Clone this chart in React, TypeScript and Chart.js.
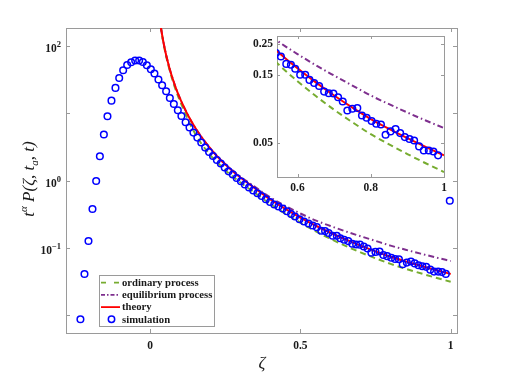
import React, { useEffect, useRef } from "react";
import { Chart, registerables } from "chart.js";

Chart.register(...registerables);

// ---------- data ----------
const simZeta = [
  -0.232, -0.2185, -0.2052, -0.1919, -0.1796, -0.1673, -0.154, -0.142, -0.1287, -0.1154,
  -0.103, -0.0898, -0.0765, -0.0632, -0.0499, -0.0366, -0.0243, -0.011, 0.0023, 0.0143,
  0.0276, 0.0399, 0.0532, 0.0655, 0.0788, 0.0921, 0.104, 0.118, 0.131, 0.144,
  0.157, 0.17, 0.183, 0.196, 0.209, 0.222, 0.235, 0.248, 0.261, 0.275,
  0.288, 0.302, 0.315, 0.329, 0.343, 0.357, 0.371, 0.385, 0.399, 0.413,
  0.427, 0.441, 0.455, 0.469, 0.482, 0.497, 0.512, 0.527, 0.541, 0.5547,
  0.5693, 0.582, 0.5937, 0.6073, 0.621, 0.6327, 0.6454, 0.659, 0.6727, 0.6854,
  0.698, 0.7108, 0.7235, 0.7361, 0.7497, 0.7633, 0.776, 0.7888, 0.8024, 0.815,
  0.8278, 0.8405, 0.854, 0.8677, 0.8803, 0.893, 0.9058, 0.9185, 0.932, 0.9448,
  0.9584, 0.9711, 0.9838, 0.997,
];
const simValue = [
  0.00869, 0.0409, 0.1267, 0.378, 0.986, 2.3, 4.83, 9.02, 15.4, 23.8,
  33.5, 43.6, 52.2, 57.3, 60.7, 60.7, 57.8, 51.6, 45.1, 38.9,
  31.7, 26.1, 21.2, 16.9, 13.7, 11.1, 9.12, 7.35, 6.13, 5.16,
  4.35, 3.67, 3.09, 2.66, 2.32, 2.02, 1.79, 1.56, 1.37, 1.23,
  1.09, 0.977, 0.873, 0.787, 0.71, 0.648, 0.59, 0.527, 0.481, 0.44,
  0.411, 0.384, 0.35, 0.319, 0.292, 0.266, 0.247, 0.23, 0.215, 0.203,
  0.18, 0.1775, 0.1663, 0.151, 0.151, 0.139, 0.132, 0.126, 0.115, 0.112,
  0.1116, 0.105, 0.098, 0.0848, 0.0871, 0.0881, 0.0782, 0.0753, 0.0714, 0.0684,
  0.0676, 0.0572, 0.0604, 0.0627, 0.0588, 0.0551, 0.0534, 0.0522, 0.0474, 0.0444,
  0.0444, 0.0437, 0.041, 0.5,
];
const curveZeta = [
  0.03, 0.033, 0.036, 0.04, 0.045, 0.05, 0.056, 0.063, 0.07, 0.08, 0.09, 0.1, 0.108,
  0.115, 0.13, 0.15, 0.17, 0.2, 0.222, 0.26, 0.3, 0.3435, 0.4, 0.45, 0.5, 0.55, 0.6,
  0.65, 0.7, 0.75, 0.8, 0.85, 0.9, 0.95, 1.0,
];
const theoryValue = [
  287, 229, 186, 145, 109.4, 85.1, 65.0, 49.2, 38.3, 27.9, 21.0, 16.4, 13.6,
  11.7, 8.64, 6.08, 4.48, 3.01, 2.32, 1.58, 1.11, 0.798, 0.524, 0.379, 0.282, 0.215, 0.1675,
  0.1334, 0.108, 0.0887, 0.0738, 0.063, 0.0542, 0.047, 0.041,
];
const ordinaryValue = [
  281, 223, 181, 140, 105.7, 82.0, 62.4, 47.0, 36.1, 26.0, 19.4, 14.9, 12.3,
  10.4, 7.36, 4.94, 3.56, 2.39, 1.89, 1.3, 0.935, 0.679, 0.446, 0.322, 0.237, 0.1766, 0.136,
  0.107, 0.0857, 0.07, 0.0578, 0.049, 0.0419, 0.0361, 0.0313,
];
const equilibriumValue = [
  287, 229, 186, 145, 109.4, 85.1, 65.0, 49.2, 38.3, 27.9, 21.0, 16.4, 13.6,
  11.7, 8.64, 6.08, 4.48, 3.01, 2.33, 1.6, 1.143, 0.834, 0.561, 0.42, 0.324, 0.256, 0.211,
  0.176, 0.149, 0.1268, 0.108, 0.0938, 0.082, 0.0721, 0.0638,
];

const legendLabels = ["ordinary process", "equilibrium process", "theory", "simulation"];
const mainXTicks = [0, 0.5, 1];
const mainXTickLabels = ["0", "0.5", "1"];
const mainYTicks = [0.01, 0.1, 1, 10, 100];
const mainYTickLabels = [
  { base: "10", exp: "" },
  { base: "10", exp: "-1" },
  { base: "10", exp: "0" },
  { base: "10", exp: "" },
  { base: "10", exp: "2" },
];
const mainYLabelShown = [false, true, true, false, true];
const insetXTicks = [0.6, 0.8, 1];
const insetXTickLabels = ["0.6", "0.8", "1"];
const insetYTicks = [0.05, 0.15, 0.25];
const insetYTickLabels = ["0.05", "0.15", "0.25"];

// ---------- styles ----------
const GREEN = "#77AC30";
const PURPLE = "#7E2F8E";
const RED = "#FF0000";
const BLUE = "#0000FF";
const AXIS = "#9a9a9a";
const TEXT = "#1a1a1a";
const SERIF = "'Liberation Serif', 'Times New Roman', serif";
const tickFont = { family: SERIF, size: 11.5, weight: "bold" as const };

function buildDatasets() {
  const sim = simZeta.map((x, i) => ({ x, y: simValue[i] }));
  const line = (vals: number[]) => curveZeta.map((x, i) => ({ x, y: vals[i] }));
  return [
    {
      label: legendLabels[3],
      data: sim,
      showLine: false,
      pointRadius: 3.3,
      pointBorderWidth: 1.5,
      pointBorderColor: BLUE,
      pointBackgroundColor: "rgba(0,0,0,0)",
      clip: 0,
    },
    {
      label: legendLabels[2],
      data: line(theoryValue),
      showLine: true,
      borderColor: RED,
      borderWidth: 2,
      pointRadius: 0,
      cubicInterpolationMode: "monotone" as const,
      clip: 0,
    },
    {
      label: legendLabels[1],
      data: line(equilibriumValue),
      showLine: true,
      borderColor: PURPLE,
      borderWidth: 2,
      borderDash: [6, 3, 1.5, 3],
      pointRadius: 0,
      cubicInterpolationMode: "monotone" as const,
      clip: 0,
    },
    {
      label: legendLabels[0],
      data: line(ordinaryValue),
      showLine: true,
      borderColor: GREEN,
      borderWidth: 2,
      borderDash: [6, 4],
      pointRadius: 0,
      cubicInterpolationMode: "monotone" as const,
      clip: 0,
    },
  ];
}

function boxPlugin(id: string, xt: number[], yt: number[], len: number) {
  return {
    id,
    beforeDatasetsDraw(chart: any) {
      const { ctx, chartArea: a, scales } = chart;
      const x = scales.x;
      const y = scales.y;
      ctx.save();
      ctx.strokeStyle = AXIS;
      ctx.lineWidth = 1;
      ctx.beginPath();
      for (const v of xt) {
        const px = Math.round(x.getPixelForValue(v)) + 0.5;
        ctx.moveTo(px, a.bottom);
        ctx.lineTo(px, a.bottom - len);
        ctx.moveTo(px, a.top);
        ctx.lineTo(px, a.top + len);
      }
      for (const v of yt) {
        const py = Math.round(y.getPixelForValue(v)) + 0.5;
        ctx.moveTo(a.left, py);
        ctx.lineTo(a.left + len, py);
        ctx.moveTo(a.right, py);
        ctx.lineTo(a.right - len, py);
      }
      ctx.stroke();
      ctx.strokeRect(
        Math.round(a.left) + 0.5,
        Math.round(a.top) + 0.5,
        Math.round(a.right - a.left),
        Math.round(a.bottom - a.top)
      );
      ctx.restore();
    },
  };
}

const mainDecor = {
  id: "mainDecor",
  afterDraw(chart: any) {
    const { ctx, scales } = chart;
    const y = scales.y;
    ctx.save();
    ctx.fillStyle = TEXT;
    // y tick labels with superscripts
    mainYTicks.forEach((v, i) => {
      if (!mainYLabelShown[i]) return;
      const py = y.getPixelForValue(v);
      const lab = mainYTickLabels[i];
      ctx.font = `bold 8.5px ${SERIF}`;
      const expText = lab.exp.replace("-", "\u2212");
      const ew = ctx.measureText(expText).width;
      ctx.font = `bold 11.5px ${SERIF}`;
      const bw = ctx.measureText(lab.base).width;
      const right = 61;
      ctx.textBaseline = "alphabetic";
      ctx.textAlign = "left";
      ctx.fillText(lab.base, right - ew - bw, py + 6.5);
      ctx.font = `bold 8.5px ${SERIF}`;
      ctx.fillText(expText, right - ew, py + 1.5);
    });

    // y axis title
    const parts: { t: string; size: number; dy: number }[] = [
      { t: "t", size: 17, dy: 0 },
      { t: "\u03b1", size: 11, dy: -7 },
      { t: " P(\u03b6, t", size: 17, dy: 0 },
      { t: "a", size: 11, dy: 3.5 },
      { t: ", t)", size: 17, dy: 0 },
    ];
    let total = 0;
    for (const p of parts) {
      ctx.font = `italic ${p.size}px ${SERIF}`;
      total += ctx.measureText(p.t).width;
    }
    ctx.translate(34, 179);
    ctx.rotate(-Math.PI / 2);
    let cx = -total / 2;
    ctx.textAlign = "left";
    ctx.textBaseline = "alphabetic";
    for (const p of parts) {
      ctx.font = `italic ${p.size}px ${SERIF}`;
      ctx.fillText(p.t, cx, p.dy);
      cx += ctx.measureText(p.t).width;
    }
    ctx.setTransform(1, 0, 0, 1, 0, 0);

    // x axis title
    ctx.font = `italic 17px ${SERIF}`;
    ctx.textAlign = "center";
    ctx.fillText("\u03b6", 262, 368);

    // legend
    const bx = 99.5, by = 275.5, bw2 = 115, bh = 51;
    ctx.fillStyle = "#ffffff";
    ctx.fillRect(bx, by, bw2, bh);
    ctx.strokeStyle = AXIS;
    ctx.lineWidth = 1;
    ctx.strokeRect(bx, by, bw2, bh);
    const styles = [
      { color: GREEN, dash: [5, 8], kind: "line" },
      { color: PURPLE, dash: [4, 2, 1.5, 2], kind: "line" },
      { color: RED, dash: [], kind: "line" },
      { color: BLUE, dash: [], kind: "marker" },
    ];
    legendLabels.forEach((label, i) => {
      const ly = 282.7 + i * 12.2;
      const s = styles[i];
      ctx.strokeStyle = s.color;
      if (s.kind === "line") {
        ctx.lineWidth = 1.8;
        ctx.setLineDash(s.dash);
        ctx.beginPath();
        ctx.moveTo(101, ly);
        ctx.lineTo(120, ly);
        ctx.stroke();
        ctx.setLineDash([]);
      } else {
        ctx.lineWidth = 1.5;
        ctx.beginPath();
        ctx.arc(111.5, ly, 3.2, 0, Math.PI * 2);
        ctx.stroke();
      }
      ctx.fillStyle = TEXT;
      ctx.font = `bold 10.7px ${SERIF}`;
      ctx.textAlign = "left";
      ctx.textBaseline = "middle";
      ctx.fillText(label, 122, ly + 0.5);
    });
    ctx.restore();
  },
};

function mainConfig(): any {
  return {
    type: "scatter",
    data: { datasets: buildDatasets() },
    options: {
      responsive: false,
      animation: false,
      devicePixelRatio: 1,
      layout: { padding: { left: 0, top: 28, right: 49, bottom: 0 } },
      plugins: { legend: { display: false }, tooltip: { enabled: false } },
      scales: {
        x: {
          type: "linear",
          min: -0.28,
          max: 1.021,
          grid: { display: false, drawTicks: false },
          border: { display: false },
          ticks: {
            font: tickFont,
            color: TEXT,
            padding: 6,
            autoSkip: false,
            maxRotation: 0,
            callback: (_v: any, i: number) => mainXTickLabels[i],
          },
          afterBuildTicks: (s: any) => {
            s.ticks = mainXTicks.map((value) => ({ value }));
          },
          afterFit: (s: any) => {
            s.height = 42;
          },
        },
        y: {
          type: "logarithmic",
          min: 0.00543,
          max: 184.9,
          grid: { display: false, drawTicks: false },
          border: { display: false },
          ticks: { display: false },
          afterBuildTicks: (s: any) => {
            s.ticks = mainYTicks.map((value) => ({ value }));
          },
          afterFit: (s: any) => {
            s.width = 66;
          },
        },
      },
    },
    plugins: [boxPlugin("mainBox", mainXTicks, mainYTicks, 4), mainDecor],
  };
}

function insetConfig(): any {
  return {
    type: "scatter",
    data: { datasets: buildDatasets() },
    options: {
      responsive: false,
      animation: false,
      devicePixelRatio: 1,
      layout: { padding: { left: 0, top: 36, right: 62, bottom: 0 } },
      plugins: { legend: { display: false }, tooltip: { enabled: false } },
      scales: {
        x: {
          type: "linear",
          min: 0.544,
          max: 1.0,
          grid: { display: false, drawTicks: false },
          border: { display: false },
          ticks: {
            font: tickFont,
            color: TEXT,
            padding: 4.5,
            autoSkip: false,
            maxRotation: 0,
            callback: (_v: any, i: number) => insetXTickLabels[i],
          },
          afterBuildTicks: (s: any) => {
            s.ticks = insetXTicks.map((value) => ({ value }));
          },
          afterFit: (s: any) => {
            s.height = 198;
          },
        },
        y: {
          type: "logarithmic",
          min: 0.0289,
          max: 0.2826,
          grid: { display: false, drawTicks: false },
          border: { display: false },
          ticks: {
            font: tickFont,
            color: TEXT,
            padding: 4,
            autoSkip: false,
            callback: (_v: any, i: number) => insetYTickLabels[i],
          },
          afterBuildTicks: (s: any) => {
            s.ticks = insetYTicks.map((value) => ({ value }));
          },
          afterFit: (s: any) => {
            s.width = 277;
          },
        },
      },
    },
    plugins: [boxPlugin("insetBox", insetXTicks, insetYTicks, 3)],
  };
}

export default function App() {
  const mainRef = useRef<HTMLCanvasElement>(null);
  const insetRef = useRef<HTMLCanvasElement>(null);

  useEffect(() => {
    const main = new Chart(mainRef.current as HTMLCanvasElement, mainConfig());
    const inset = new Chart(insetRef.current as HTMLCanvasElement, insetConfig());
    return () => {
      main.destroy();
      inset.destroy();
    };
  }, []);

  const cs: React.CSSProperties = {
    position: "absolute",
    left: 0,
    top: 0,
    width: 506,
    height: 375,
  };
  return (
    <div
      style={{
        position: "fixed",
        left: 0,
        top: 0,
        width: 506,
        height: 375,
        background: "#ffffff",
      }}
    >
      <canvas ref={mainRef} width={506} height={375} style={cs} />
      <canvas ref={insetRef} width={506} height={375} style={cs} />
    </div>
  );
}
